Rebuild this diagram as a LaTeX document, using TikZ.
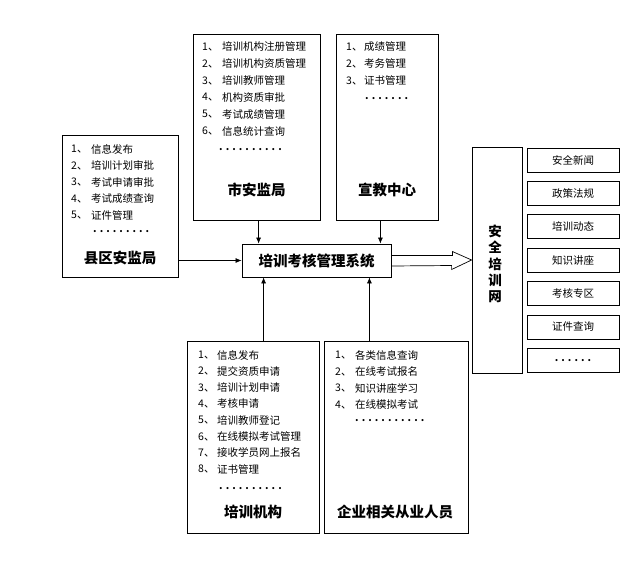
\documentclass[tikz,border=0pt]{standalone}
\usepackage{fontspec}
\setmainfont{Noto Sans CJK SC}
\usetikzlibrary{arrows.meta}

\tikzset{
  box/.style={draw, line width=0.8pt, inner sep=0pt},
  listtext/.style={font=\fontsize{10.5}{12}\selectfont, anchor=west, inner sep=0pt},
  dots/.style={font=\fontsize{10}{12}\selectfont\bfseries, anchor=west, inner sep=0pt},
  title/.style={font=\fontsize{14.5}{16}\selectfont\bfseries, inner sep=0pt},
  link/.style={line width=0.7pt, -{Latex[length=6pt,width=5pt]}},
}

\begin{document}
\begin{tikzpicture}[x=1pt,y=-1pt]
\useasboundingbox (0,0) rectangle (632,571);

% boxes
\node[box, minimum width=127pt, minimum height=186pt] (city) at (256.5,127) {};
\node[box, minimum width=102pt, minimum height=186pt] (edu) at (387,127) {};
\node[box, minimum width=116pt, minimum height=142pt] (county) at (120,206) {};
\node[box, minimum width=149pt, minimum height=33pt] (sys) at (316.5,260.5) {};
\node[box, minimum width=132pt, minimum height=192pt] (train) at (253,437) {};
\node[box, minimum width=144pt, minimum height=192pt] (staff) at (396,437) {};
\node[box, minimum width=50pt, minimum height=226pt] (web) at (497,260) {};

% 市安监局
\foreach \t [count=\i] in {培训机构注册管理,培训机构资质管理,培训教师管理,机构资质审批,考试成绩管理,信息统计查询}
  {\node[listtext] (city-n\i) at (202,{47+16.8*(\i-1)}) {\i、};
   \node[listtext] (city-t\i) at (222,{47+16.8*(\i-1)}) {\t};}
\node[dots] (city-dots) at (219,150) {. . . . . . . . . .};
\node[title] (city-title) at (256.5,190) {市安监局};

% 宣教中心
\foreach \t [count=\i] in {成绩管理,考务管理,证书管理}
  {\node[listtext] (edu-n\i) at (346,{47+16.8*(\i-1)}) {\i、};
   \node[listtext] (edu-t\i) at (364,{47+16.8*(\i-1)}) {\t};}
\node[dots] (edu-dots) at (365,99) {. . . . . . .};
\node[title] (edu-title) at (387,190) {宣教中心};

% 县区安监局
\foreach \t [count=\i] in {信息发布,培训计划审批,考试申请审批,考试成绩查询,证件管理}
  {\node[listtext] (county-n\i) at (71,{149+16.6*(\i-1)}) {\i、};
   \node[listtext] (county-t\i) at (91,{149+16.6*(\i-1)}) {\t};}
\node[dots] (county-dots) at (93,232) {. . . . . . . . .};
\node[title] (county-title) at (120,258) {县区安监局};

% 培训考核管理系统
\node[title] (sys-title) at (sys) {培训考核管理系统};

% 培训机构
\foreach \t [count=\i] in {信息发布,提交资质申请,培训计划申请,考核申请,培训教师登记,在线模拟考试管理,接收学员网上报名,证书管理}
  {\node[listtext] (train-n\i) at (198,{355+16.3*(\i-1)}) {\i、};
   \node[listtext] (train-t\i) at (217,{355+16.3*(\i-1)}) {\t};}
\node[dots] (train-dots) at (219,489) {. . . . . . . . . .};
\node[title] (train-title) at (253,512) {培训机构};

% 企业相关从业人员
\foreach \t [count=\i] in {各类信息查询,在线考试报名,知识讲座学习,在线模拟考试}
  {\node[listtext] (staff-n\i) at (335,{355+16.6*(\i-1)}) {\i、};
   \node[listtext] (staff-t\i) at (355,{355+16.6*(\i-1)}) {\t};}
\node[dots] (staff-dots) at (355,421) {. . . . . . . . . . .};
\node[title] (staff-title) at (395,512) {企业相关从业人员};

% 安全培训网
\node[font=\fontsize{13.5}{16.3}\selectfont\bfseries, align=center, inner sep=0pt] (web-title) at (495,264) {安\\全\\培\\训\\网};
\foreach \t [count=\i] in {安全新闻,政策法规,培训动态,知识讲座,考核专区,证件查询}
  \node[box, minimum width=92pt, minimum height=24pt, font=\fontsize{10.5}{12}\selectfont]
    (web\i) at (573,{160+33.4*(\i-1)}) {\t};
\node[box, minimum width=92pt, minimum height=24pt, font=\fontsize{10}{12}\selectfont\bfseries]
  (web7) at (573,360.4) {. . . . . .};

% connectors
\draw[link] (county.east |- sys.west) -- (sys.west);
\coordinate (top1) at ([xshift=17pt]sys.north west);
\coordinate (top2) at ([xshift=-11pt]sys.north east);
\coordinate (bot1) at ([xshift=22pt]sys.south west);
\coordinate (bot2) at ([xshift=-22pt]sys.south east);
\draw[link] (city.south -| top1) -- (top1);
\draw[link] (edu.south -| top2) -- (top2);
\draw[link] (train.north -| bot1) -- (bot1);
\draw[link] (staff.north -| bot2) -- (bot2);

% hollow arrow to the web
\draw[line width=0.7pt] ([yshift=5pt]sys.east) -- ++(61,0) -- ++(0,-4) -- (web.west)
  -- ++(-20,9.5) -- ++(0,-4) -- ([yshift=-5.5pt]sys.east);
\end{tikzpicture}
\end{document}
